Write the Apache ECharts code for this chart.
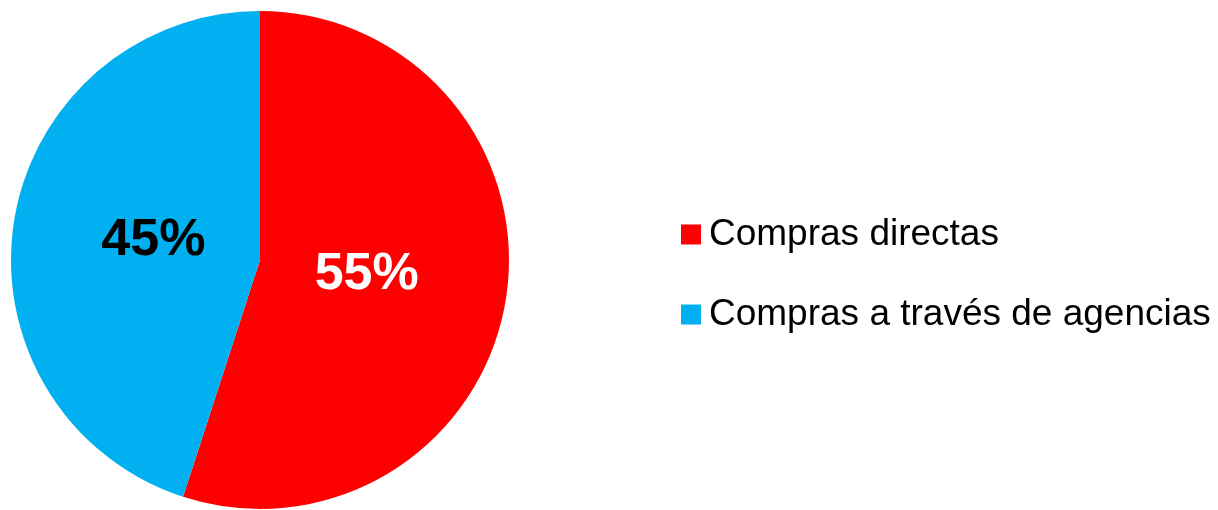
<!DOCTYPE html>
<html>
<head>
<meta charset="utf-8">
<script src="https://cdn.jsdelivr.net/npm/echarts@6/dist/echarts.min.js"></script>
<style>
html,body{margin:0;padding:0;background:#fff;}
#chart{width:1218px;height:510px;}
</style>
</head>
<body>
<div id="chart"></div>
<script>
const categories = ['Compras directas', 'Compras a través de agencias'];
const values = [55, 45];
const colors = ['#FF0000', '#00B0F0'];
const labelColors = ['#FFFFFF', '#000000'];

const chart = echarts.init(document.getElementById('chart'), null, {renderer: 'canvas'});
const mainData = categories.map((c, i) => ({name: c, value: values[i], itemStyle: {color: colors[i]}}));
const labelData = categories.map((c, i) => ({
  name: c, value: values[i],
  itemStyle: {color: 'rgba(0,0,0,0)'},
  label: {color: labelColors[i]}
}));

chart.setOption({
  animation: false,
  backgroundColor: '#ffffff',
  legend: {
    orient: 'vertical',
    left: 681,
    top: 216,
    padding: 0,
    itemWidth: 20,
    itemHeight: 20,
    itemGap: 43,
    icon: 'rect',
    data: categories,
    selectedMode: false,
    textStyle: {fontFamily: 'Liberation Sans, Arial, sans-serif', fontSize: 37, color: '#000', padding: [2, 0, 0, 3]}
  },
  series: [
    {
      type: 'pie',
      center: [260, 260],
      radius: [0, 249],
      startAngle: 90,
      clockwise: true,
      data: mainData,
      label: {show: false},
      labelLine: {show: false},
      emphasis: {disabled: true}
    },
    {
      type: 'pie',
      center: [260, 258],
      radius: [0, 210],
      startAngle: 90,
      clockwise: true,
      silent: true,
      data: labelData,
      label: {
        show: true,
        position: 'inside',
        formatter: '{d}%',
        fontFamily: 'Liberation Sans, Arial, sans-serif',
        fontWeight: 'bold',
        fontSize: 52
      },
      labelLine: {show: false},
      emphasis: {disabled: true}
    }
  ]
});
</script>
</body>
</html>
